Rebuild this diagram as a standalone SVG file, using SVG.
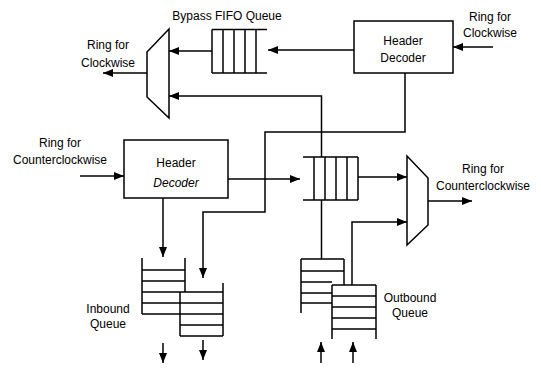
<svg xmlns="http://www.w3.org/2000/svg" width="541" height="368" viewBox="0 0 541 368">
<style>
.ln{fill:none;stroke:#000;stroke-width:1.5}
.bx{fill:#fff;stroke:#000;stroke-width:1.5}
.t{font-family:"Liberation Sans",Arial,sans-serif;font-size:12px;fill:#000;text-anchor:middle}
.it{font-style:italic}
</style>
<defs>
<marker id="ah" viewBox="0 0 10 8" refX="10" refY="4" markerWidth="10" markerHeight="8" markerUnits="userSpaceOnUse" orient="auto">
<path d="M0,0 L10,4 L0,8 Z" fill="#000"/>
</marker>
</defs>
<rect width="541" height="368" fill="#fff"/>

<g id="connectors" class="ln">
<path d="M493,47 H453" marker-end="url(#ah)"/>
<path d="M354,50 H268" marker-end="url(#ah)"/>
<path d="M212,51 H169" marker-end="url(#ah)"/>
<path d="M147,73 H103" marker-end="url(#ah)"/>
<path d="M321.5,157 V96 H169" marker-end="url(#ah)"/>
<path d="M405,73 V132 H265 V212 H203 V278" marker-end="url(#ah)"/>
<path d="M80,176 H124" marker-end="url(#ah)"/>
<path d="M228,179 H300" marker-end="url(#ah)"/>
<path d="M163,198 V257" marker-end="url(#ah)"/>
<path d="M358,177 H407" marker-end="url(#ah)"/>
<path d="M321.5,200 V259"/>
<path d="M352,285 V222 H407" marker-end="url(#ah)"/>
<path d="M428,201 H472" marker-end="url(#ah)"/>
<path d="M163,343 V363" marker-end="url(#ah)"/>
<path d="M203,340 V360" marker-end="url(#ah)"/>
<path d="M321,363 V342" marker-end="url(#ah)"/>
<path d="M353,363 V342" marker-end="url(#ah)"/>
</g>

<g id="header-decoder-cw">
<rect class="bx" x="354" y="21" width="99" height="52"/>
<text class="t" x="403" y="45">Header</text>
<text class="t" x="403" y="62">Decoder</text>
</g>

<g id="header-decoder-ccw">
<rect class="bx" x="124" y="140" width="104" height="58"/>
<text class="t" x="176" y="167">Header</text>
<text class="t it" x="176" y="187">Decoder</text>
</g>

<g id="bypass-fifo" class="ln">
<path d="M212,29.5 H267 M212,73 H267 M212,29.5 V73 M223,29.5 V73 M234,29.5 V73 M245,29.5 V73 M256,29.5 V73"/>
</g>
<text id="bypass-label" class="t" x="227" y="20">Bypass FIFO Queue</text>

<g id="center-fifo" class="ln">
<path d="M303,157 H358 M303,200 H358 M314,157 V200 M325,157 V200 M336,157 V200 M347,157 V200 M358,157 V200"/>
</g>

<g id="mux-cw">
<polygon class="bx" points="169,29 147,52 147,97 169,118"/>
</g>

<g id="mux-ccw">
<polygon class="bx" points="407,156 428,178 428,225 407,245"/>
</g>

<g id="inbound-queue">
<path class="ln" d="M142,258 V314 M185,258 V292 M142,270 H185 M142,281 H185 M142,292 H180 M142,303 H180 M142,314 H180"/>
<path class="ln" d="M180,292 V336 M223,283 V336 M180,292 H223 M180,303 H223 M180,314 H223 M180,325 H223 M180,336 H223"/>
<text class="t" x="108" y="313">Inbound</text>
<text class="t" x="108" y="328">Queue</text>
</g>

<g id="outbound-queue">
<path class="ln" d="M301,259 V313 M344,259 V285 M301,259 H344 M301,271 H344 M301,282 H332 M301,293 H332 M301,303 H332"/>
<path class="ln" d="M332,285 V339 M376,285 V339 M332,285 H376 M332,296 H376 M332,307 H376 M332,318 H376 M332,329 H376"/>
<text class="t" x="410" y="302">Outbound</text>
<text class="t" x="410" y="317">Queue</text>
</g>

<g id="labels">
<text class="t" x="490" y="21">Ring for</text>
<text class="t" x="490" y="37">Clockwise</text>
<text class="t" x="108" y="49">Ring for</text>
<text class="t" x="108" y="67">Clockwise</text>
<text class="t" x="60" y="147">Ring for</text>
<text class="t" x="60" y="164">Counterclockwise</text>
<text class="t" x="483" y="173">Ring for</text>
<text class="t" x="483" y="190">Counterclockwise</text>
</g>
</svg>
